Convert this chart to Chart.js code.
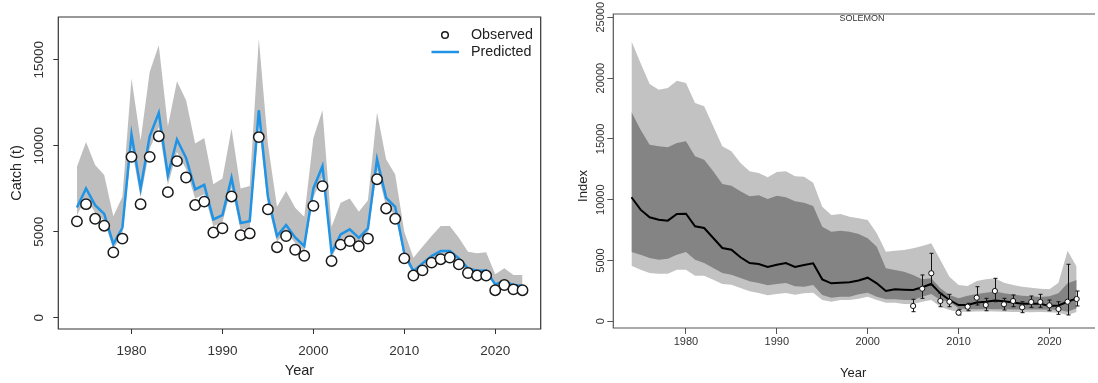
<!DOCTYPE html>
<html>
<head>
<meta charset="utf-8">
<script src="https://cdn.jsdelivr.net/npm/chart.js@4.4.1/dist/chart.umd.min.js"></script>
<style>
html, body { margin: 0; padding: 0; background: #fff; }
#wrap { position: relative; width: 1098px; height: 383px; overflow: hidden; }
canvas { position: absolute; top: 0; }
#catchChart { left: 0; }
#indexChart { left: 549px; }
</style>
</head>
<body>
<div id="wrap">
  <canvas id="catchChart" width="549" height="383"></canvas>
  <canvas id="indexChart" width="549" height="383"></canvas>
</div>
<script>
// ---- catch panel ----
var years = [1974,1975,1976,1977,1978,1979,1980,1981,1982,1983,1984,1985,1986,1987,1988,1989,1990,1991,1992,1993,
             1994,1995,1996,1997,1998,1999,2000,2001,2002,2003,2004,2005,2006,2007,2008,2009,2010,2011,2012,2013,
             2014,2015,2016,2017,2018,2019,2020,2021,2022,2023];

var catchObs = [5600,6600,5750,5350,3800,4600,9350,6600,9350,10550,7300,9100,8150,6550,6750,4950,5200,7050,4800,4900,
                10500,6300,4100,4750,3950,3600,6500,7650,3300,4250,4450,4150,4600,8050,6350,5750,3450,2450,2750,3200,
                3400,3500,3100,2600,2450,2450,1600,1900,1650,1600];

var catchPred = [6410,7515,6545,6040,4280,5230,10650,7515,10550,11905,8290,10360,9290,7455,7720,5715,5965,8130,5500,5615,
                 12060,7050,4745,5385,4670,4165,7515,8810,3775,4845,5135,4645,5190,9215,6970,6445,3740,2710,3160,3585,
                 3875,3875,3450,2870,2730,2750,1940,2130,1900,1860];

var catchUpper = [8770,10220,8870,8290,5905,7030,13900,10300,14285,15840,11130,13745,12640,10125,10450,7765,8095,10995,7515,7650,
                  16225,10100,6445,7360,6390,5865,10450,12060,5285,6680,6930,6155,6835,11925,9215,8325,4995,3485,4125,4745,
                  5325,5325,4645,3830,3740,3800,2520,2870,2480,2480];

var catchLower = [5960,6990,6090,5620,3980,4860,9900,6990,9810,11070,7710,9630,8640,6930,7180,5310,5550,7560,5110,5220,
                  11210,6560,4410,5010,4340,3870,6990,8190,3510,4510,4780,4320,4830,8570,6480,5990,3480,2520,2940,3330,
                  3600,3600,3210,2670,2540,2560,1800,1980,1770,1730];

var catchTicks = [0, 5000, 10000, 15000];
var yearTicks = [1980, 1990, 2000, 2010, 2020];

// ---- survey index panel ----
var idxMedian = [10200,9180,8550,8355,8275,8825,8850,7810,7670,6850,6030,5890,5265,4795,4710,4465,4655,4795,4465,4630,
                 4770,3450,3125,3160,3205,3350,3585,3125,2490,2630,2600,2575,2795,3070,2300,1750,1340,1340,1550,1600,
                 1700,1650,1550,1450,1450,1450,1260,1300,1610,1890];

var idxInnerHi = [17210,15760,14525,14390,14310,14665,14805,13570,13290,12335,11290,11150,10690,10280,10360,10060,10330,10200,9870,9755,
                  9480,7780,7370,7450,7370,7180,6825,6135,4360,4220,4080,3810,3455,3535,2715,2165,1890,2100,2250,2350,
                  2450,2300,2200,2100,2050,2000,2050,2300,3125,3400];

var idxInnerLo = [5700,5480,5205,5065,5150,5480,5700,5065,4795,4385,3970,3835,3560,3290,3150,2960,3070,3150,2880,2845,
                  2985,2165,1940,2025,2025,2220,2350,2025,1810,1810,1750,1750,2025,2245,1750,1610,1070,990,1000,1010,
                  1000,990,980,970,970,980,960,950,790,1070];

var idxOuterHi = [23030,21240,19515,19050,19190,19790,19600,17950,17680,16040,14390,13980,13020,12335,12195,11840,12280,12335,11925,11890,
                  11400,9425,8740,8825,8600,8470,8330,7235,5725,5805,5865,6000,6190,6415,5040,3670,2985,2900,3315,3455,
                  3535,3175,2985,2845,2765,2680,2630,3175,5805,4490];

var idxOuterLo = [4575,4245,3970,3915,3915,4245,4245,3750,3750,3420,3070,3010,2740,2465,2325,2140,2245,2325,2190,2300,
                  2350,1750,1610,1750,1750,1860,2025,1750,1530,1530,1420,1420,1610,1750,1200,930,790,780,800,820,
                  810,790,770,760,750,760,740,700,520,760];

var surveyYears = [2005,2006,2007,2008,2009,2010,2011,2012,2013,2014,2015,2016,2017,2018,2019,2020,2021,2022,2023];
var surveyObs = [1260,2680,3950,1670,1610,710,1200,1940,1340,2490,1400,1670,1150,1590,1590,1315,1010,1610,1835];
var surveyLo  = [790,1890,2985,1200,1200,520,870,1340,870,1610,930,1200,710,1150,1150,870,575,520,1260];
var surveyHi  = [1810,3810,5590,2300,2220,990,1480,2845,1890,3535,1890,2165,1610,2080,2220,1750,1610,4690,2490];

var indexTicks = [0, 5000, 10000, 15000, 20000, 25000];

var FONT = "'Liberation Sans', Arial, Helvetica, sans-serif";
Chart.defaults.font.family = FONT;

function xy(xs, ys) {
    return xs.map(function (x, i) { return { x: x, y: ys[i] }; });
}

// box around the plot region + y tick labels turned sideways (R style)
function framePlugin(o) {
    return {
        id: 'frame',
        afterDraw: function (chart) {
            var ctx = chart.ctx, a = chart.chartArea, ys = chart.scales.y;
            ctx.save();
            ctx.strokeStyle = o.boxColor;
            ctx.lineWidth = o.boxWidth;
            ctx.beginPath();
            if (o.openRight) {
                ctx.moveTo(a.right + 2, a.top);
                ctx.lineTo(a.left, a.top);
                ctx.lineTo(a.left, a.bottom);
                ctx.lineTo(a.right + 2, a.bottom);
            } else {
                ctx.rect(a.left, a.top, a.right - a.left, a.bottom - a.top);
            }
            ctx.stroke();

            ctx.fillStyle = o.labelColor;
            ctx.font = o.labelSize + 'px ' + FONT;
            ctx.textAlign = 'center';
            ctx.textBaseline = 'middle';
            ys.ticks.forEach(function (t) {
                var py = ys.getPixelForValue(t.value);
                ctx.save();
                ctx.translate(o.labelX, py);
                ctx.rotate(-Math.PI / 2);
                ctx.fillText(String(t.value), 0, 0);
                ctx.restore();
            });
            if (o.extra) o.extra(chart, ctx);
            ctx.restore();
        }
    };
}

function baseScales(c) {
    return {
        x: {
            type: 'linear',
            min: c.xMin, max: c.xMax,
            afterBuildTicks: function (s) { s.ticks = yearTicks.map(function (v) { return { value: v }; }); },
            afterFit: function (s) { s.height = c.xHeight; },
            ticks: {
                color: c.labelColor,
                font: { size: c.tickSize },
                padding: c.xPad,
                maxRotation: 0,
                callback: function (v) { return String(v); }
            },
            grid: { drawOnChartArea: false, drawTicks: true, tickLength: c.tickLen, color: c.boxColor, lineWidth: 1 },
            border: { display: false },
            title: {
                display: true, text: 'Year', color: '#222',
                font: { size: c.titleSize },
                padding: { top: 0, bottom: c.xTitlePad }
            }
        },
        y: {
            type: 'linear',
            min: c.yMin, max: c.yMax,
            afterBuildTicks: function (s) { s.ticks = c.yTicks.map(function (v) { return { value: v }; }); },
            afterFit: function (s) { s.width = c.yWidth; },
            ticks: { display: false },
            grid: { drawOnChartArea: false, drawTicks: true, tickLength: c.tickLen, color: c.boxColor, lineWidth: 1 },
            border: { display: false },
            title: {
                display: c.yTitle !== null, text: c.yTitle || '', color: '#222',
                font: { size: c.titleSize },
                padding: { top: c.yTitlePad, bottom: 0 }
            }
        }
    };
}

// ---------- left: observed vs predicted catch ----------
var BLUE = '#1f93e6';

new Chart(document.getElementById('catchChart'), {
    type: 'line',
    data: {
        datasets: [
            {
                label: 'Observed',
                data: xy(years, catchObs),
                showLine: false,
                pointRadius: 5.2,
                pointBorderWidth: 1.5,
                pointBackgroundColor: '#fff',
                pointBorderColor: '#1a1a1a'
            },
            {
                label: 'Predicted',
                data: xy(years, catchPred),
                borderColor: BLUE,
                borderWidth: 2.5,
                pointRadius: 0,
                fill: false
            },
            {
                label: 'upper',
                data: xy(years, catchUpper),
                borderWidth: 0,
                borderColor: 'rgba(0,0,0,0)',
                backgroundColor: '#bebebe',
                pointRadius: 0,
                fill: '+1'
            },
            {
                label: 'lower',
                data: xy(years, catchLower),
                borderWidth: 0,
                borderColor: 'rgba(0,0,0,0)',
                pointRadius: 0,
                fill: false
            }
        ]
    },
    options: {
        responsive: false,
        animation: false,
        events: [],
        layout: { padding: { left: 0, top: 17, right: 8.3, bottom: 0 } },
        scales: baseScales({
            xMin: 1971.95, xMax: 2025.0, xHeight: 54, xPad: 9, tickLen: 5,
            yMin: -656, yMax: 17480, yWidth: 58.3, yTicks: catchTicks,
            tickSize: 13.5, titleSize: 14.5, labelColor: '#333', boxColor: '#333',
            yTitle: 'Catch (t)', yTitlePad: 8, xTitlePad: 3
        }),
        plugins: { legend: { display: false }, tooltip: { enabled: false } }
    },
    plugins: [framePlugin({
        boxColor: '#333', boxWidth: 1.2, labelColor: '#333', labelSize: 13.5, labelX: 39,
        extra: function (chart, ctx) {
            // legend, top right inside the box
            ctx.font = '14.3px ' + FONT;
            ctx.fillStyle = '#222';
            ctx.textAlign = 'left';
            ctx.textBaseline = 'middle';
            ctx.strokeStyle = '#1a1a1a';
            ctx.lineWidth = 1.5;
            ctx.beginPath();
            ctx.arc(445, 35, 3.3, 0, Math.PI * 2);
            ctx.stroke();
            ctx.fillText('Observed', 471, 35);
            ctx.strokeStyle = BLUE;
            ctx.lineWidth = 2.5;
            ctx.beginPath();
            ctx.moveTo(431.5, 52);
            ctx.lineTo(459, 52);
            ctx.stroke();
            ctx.fillText('Predicted', 471, 52);
        }
    })]
});

// ---------- right: survey index with quantile bands ----------
var errorBars = {
    id: 'errorBars',
    beforeDatasetDraw: function (chart, args) {
        if (args.index !== 0) return;
        var ctx = chart.ctx, xs = chart.scales.x, ys = chart.scales.y;
        ctx.save();
        ctx.strokeStyle = '#111';
        ctx.lineWidth = 1;
        surveyYears.forEach(function (yr, i) {
            var px = Math.round(xs.getPixelForValue(yr)) + 0.5;
            var lo = ys.getPixelForValue(surveyLo[i]);
            var hi = ys.getPixelForValue(surveyHi[i]);
            ctx.beginPath();
            ctx.moveTo(px, lo); ctx.lineTo(px, hi);
            ctx.moveTo(px - 2, lo); ctx.lineTo(px + 2, lo);
            ctx.moveTo(px - 2, hi); ctx.lineTo(px + 2, hi);
            ctx.stroke();
        });
        ctx.restore();
    }
};

new Chart(document.getElementById('indexChart'), {
    type: 'line',
    data: {
        datasets: [
            {
                label: 'survey',
                data: xy(surveyYears, surveyObs),
                showLine: false,
                pointRadius: 2.6,
                pointBorderWidth: 1,
                pointBackgroundColor: '#fff',
                pointBorderColor: '#111'
            },
            {
                label: 'median',
                data: xy(years, idxMedian),
                borderColor: '#000',
                borderWidth: 2,
                pointRadius: 0,
                fill: false
            },
            {
                label: 'inner hi',
                data: xy(years, idxInnerHi),
                borderWidth: 0, borderColor: 'rgba(0,0,0,0)',
                backgroundColor: '#848484',
                pointRadius: 0,
                fill: '+1'
            },
            {
                label: 'inner lo',
                data: xy(years, idxInnerLo),
                borderWidth: 0, borderColor: 'rgba(0,0,0,0)',
                pointRadius: 0,
                fill: false
            },
            {
                label: 'outer hi',
                data: xy(years, idxOuterHi),
                borderWidth: 0, borderColor: 'rgba(0,0,0,0)',
                backgroundColor: '#c2c2c2',
                pointRadius: 0,
                fill: '+1'
            },
            {
                label: 'outer lo',
                data: xy(years, idxOuterLo),
                borderWidth: 0, borderColor: 'rgba(0,0,0,0)',
                pointRadius: 0,
                fill: false
            }
        ]
    },
    options: {
        responsive: false,
        animation: false,
        events: [],
        layout: { padding: { left: 0, top: 14, right: 0, bottom: 0 } },
        scales: baseScales({
            xMin: 1972.0, xMax: 2024.8, xHeight: 55, xPad: 1, tickLen: 6,
            yMin: -551, yMax: 25270, yWidth: 64.3, yTicks: indexTicks,
            tickSize: 11, titleSize: 13, labelColor: '#333', boxColor: '#555',
            yTitle: null, yTitlePad: 0, xTitlePad: 2
        }),
        plugins: { legend: { display: false }, tooltip: { enabled: false } }
    },
    plugins: [errorBars, framePlugin({
        boxColor: '#555', boxWidth: 1.2, labelColor: '#333', labelSize: 11, labelX: 52, openRight: true,
        extra: function (chart, ctx) {
            ctx.font = '9px ' + FONT;
            ctx.fillStyle = '#333';
            ctx.textAlign = 'center';
            ctx.textBaseline = 'middle';
            ctx.fillText('SOLEMON', 313, 19);
            // y title sits a little below the middle of the panel
            ctx.font = '13px ' + FONT;
            ctx.fillStyle = '#222';
            ctx.save();
            ctx.translate(34, 186);
            ctx.rotate(-Math.PI / 2);
            ctx.fillText('Index', 0, 0);
            ctx.restore();
        }
    })]
});
</script>
</body>
</html>
